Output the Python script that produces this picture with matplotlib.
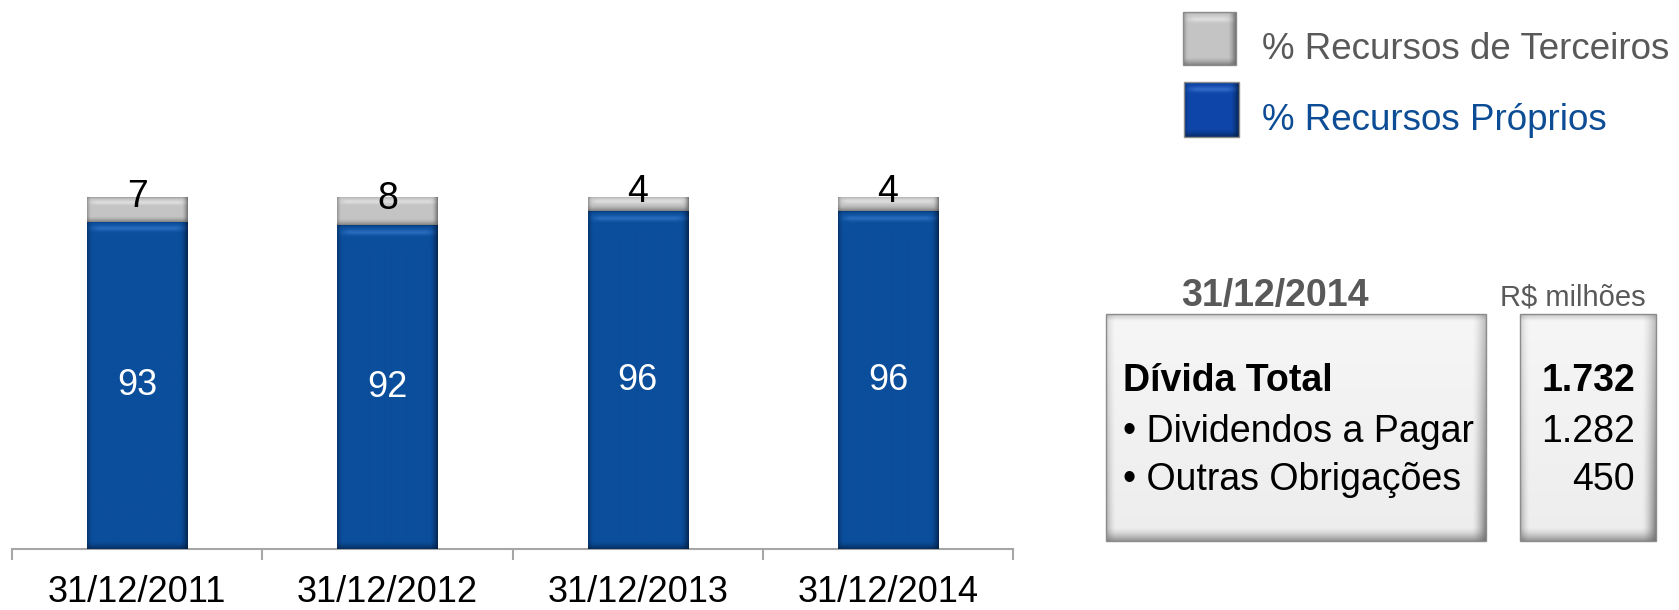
import numpy as np
import matplotlib
matplotlib.use("Agg")
import matplotlib.pyplot as plt
from matplotlib.patches import Rectangle
from matplotlib.colors import to_rgb

plt.rcParams['font.family'] = ['Liberation Sans', 'DejaVu Sans']

# ---------------- data ----------------
categories = ['31/12/2011', '31/12/2012', '31/12/2013', '31/12/2014']
proprios = [93, 92, 96, 96]
terceiros = [7, 8, 4, 4]
series_names = ['% Recursos de Terceiros', '% Recursos Próprios']
table_title = '31/12/2014'
table_unit = 'R$ milhões'
table_labels = ['Dívida Total', '• Dividendos a Pagar', '• Outras Obrigações']
table_values = ['1.732', '1.282', '450']

BLUE = '#0B4E9C'
BLUE_DARK = '#031C3E'
BLUE_LIGHT = '#3E82D6'
GRAY = '#C4C4C4'
GRAY_DARK = '#5E5E5E'
GRAY_LIGHT = '#F2F2F2'
TEXT_GRAY = '#595959'
TEXT_BLUE = '#0D4D96'

W, H, DPI = 1679, 610, 100
fig = plt.figure(figsize=(W / DPI, H / DPI), dpi=DPI)
fig.patch.set_facecolor('white')


def bevel(wpx, hpx, base, dark, light, e=7, hl=True, strength=0.85):
    wpx = max(int(round(wpx)), 2)
    hpx = max(int(round(hpx)), 2)
    b = np.array(to_rgb(base))
    d = np.array(to_rgb(dark))
    l = np.array(to_rgb(light))
    x = np.arange(wpx) + 0.5
    y = np.arange(hpx) + 0.5
    X, Y = np.meshgrid(x, y)
    img = np.ones((hpx, wpx, 3)) * b
    def mix(img, t, c):
        return img * (1 - t[..., None]) + c * t[..., None]
    tr = np.clip(1 - (wpx - X) / e, 0, 1) ** 1.5 * strength
    tlft = np.clip(1 - X / (e * 0.7), 0, 1) ** 1.5 * strength * 0.6
    tb = np.clip(1 - (hpx - Y) / e, 0, 1) ** 1.5 * strength * 0.8
    img = mix(img, tlft, d)
    img = mix(img, tr, d)
    img = mix(img, tb, d)
    if hl:
        band = np.exp(-((Y - min(e * 0.9, hpx * 0.35)) / (e * 0.35)) ** 2)
        side = np.clip(np.minimum(X, wpx - X) / (e * 1.5), 0, 1)
        img = mix(img, band * side * 0.55, l)
        ttop = np.clip(1 - Y / 2.0, 0, 1) * 0.4
        img = mix(img, ttop, d)
    else:
        g = np.clip(1 - Y / hpx, 0, 1) * 0.5
        img = mix(img, g, l)
        ttop = np.clip(1 - Y / (e * 0.5), 0, 1) * 0.35
        img = mix(img, ttop, d)
    return np.clip(img, 0, 1)


# ---------------- main bar axes ----------------
x0, x1 = 12, 1013
ybase, ytop = 549, 197
ax = fig.add_axes([x0 / W, (H - ybase) / H, (x1 - x0) / W, (ybase - ytop) / H])
ax.set_xlim(-0.5, len(categories) - 0.5)
ax.set_ylim(0, 100)
xs = np.arange(len(categories))
bw = 0.4
bars_b = ax.bar(xs, proprios, width=bw, color=BLUE, zorder=2)
bars_g = ax.bar(xs, terceiros, width=bw, bottom=proprios, color=GRAY, zorder=2)

for sp in ['top', 'left', 'right']:
    ax.spines[sp].set_visible(False)
ax.spines['bottom'].set_color('#A6A6A6')
ax.spines['bottom'].set_linewidth(1.5)
ax.set_yticks([])
ax.set_xticks(np.arange(-0.5, len(categories), 1.0))
ax.set_xticklabels([])
ax.tick_params(axis='x', which='major', length=8, width=1.5, color='#A6A6A6', direction='out')
ax.set_xticks(xs, minor=True)
ax.set_xticklabels(categories, minor=True, fontsize=26, color='black')
ax.tick_params(axis='x', which='minor', length=0, pad=18.5)
ax.patch.set_alpha(0)

fig.canvas.draw()


def shade_bar(bar, base, dark, light, e):
    bx, by = bar.get_x(), bar.get_y()
    bwid, bh = bar.get_width(), bar.get_height()
    p0 = ax.transData.transform((bx, by))
    p1 = ax.transData.transform((bx + bwid, by + bh))
    img = bevel(p1[0] - p0[0], p1[1] - p0[1], base, dark, light, e=e)
    im = ax.imshow(img, extent=(bx, bx + bwid, by, by + bh), aspect='auto',
                   zorder=3, interpolation='bilinear')
    im.set_clip_path(bar)


for bar in bars_b:
    shade_bar(bar, BLUE, BLUE_DARK, BLUE_LIGHT, 8)
for bar in bars_g:
    shade_bar(bar, GRAY, GRAY_DARK, GRAY_LIGHT, 6)
ax.set_xlim(-0.5, len(categories) - 0.5)
ax.set_ylim(0, 100)

for i in range(len(categories)):
    ax.text(xs[i], proprios[i] / 2, str(proprios[i]), ha='center', va='center',
            fontsize=26, color='white', zorder=5)
    ax.text(xs[i], proprios[i] + terceiros[i] / 2 + 3.5, str(terceiros[i]),
            ha='center', va='center', fontsize=27, color='black', zorder=5)

# ---------------- overlay (pixel coordinates) ----------------
ov = fig.add_axes([0, 0, 1, 1], zorder=10)
ov.set_xlim(0, W)
ov.set_ylim(H, 0)
ov.axis('off')
ov.patch.set_alpha(0)


def bevel_box(xa, ya, xb, yb, base, dark, light, e, hl=True, strength=0.85):
    img = bevel(xb - xa, yb - ya, base, dark, light, e=e, hl=hl, strength=strength)
    ov.imshow(img, extent=(xa, xb, yb, ya), aspect='auto', zorder=1,
              interpolation='bilinear')
    ov.add_patch(Rectangle((xa, ya), xb - xa, yb - ya, fill=False,
                           edgecolor='#8C8C8C', linewidth=1.0, zorder=2))


# legend
bevel_box(1183, 12, 1236, 65, GRAY, GRAY_DARK, GRAY_LIGHT, 8)
bevel_box(1184, 82, 1239, 137, '#0E45A8', BLUE_DARK, '#4A86E0', 8)
ov.text(1262, 59, series_names[0], fontsize=26.5, color=TEXT_GRAY, va='baseline', ha='left')
ov.text(1262, 130, series_names[1], fontsize=26.5, color=TEXT_BLUE, va='baseline', ha='left')

# table
ov.text(1275, 306, table_title, fontsize=27, fontweight='bold', color=TEXT_GRAY,
        ha='center', va='baseline')
ov.text(1573, 305, table_unit, fontsize=21, color=TEXT_GRAY, ha='center', va='baseline')
bevel_box(1106, 314, 1486, 541, '#EDEDED', '#6E6E6E', '#FFFFFF', 14, hl=False, strength=0.9)
bevel_box(1520, 314, 1656, 541, '#EDEDED', '#6E6E6E', '#FFFFFF', 14, hl=False, strength=0.9)

baselines = [391, 442, 490]
for i, (lab, val) in enumerate(zip(table_labels, table_values)):
    w = 'bold' if i == 0 else 'normal'
    ov.text(1123, baselines[i], lab, fontsize=27, fontweight=w, color='black',
            ha='left', va='baseline', zorder=5)
    ov.text(1635, baselines[i], val, fontsize=27, fontweight=w, color='black',
            ha='right', va='baseline', zorder=5)

fig.savefig('out.png', dpi=DPI, facecolor='white')
